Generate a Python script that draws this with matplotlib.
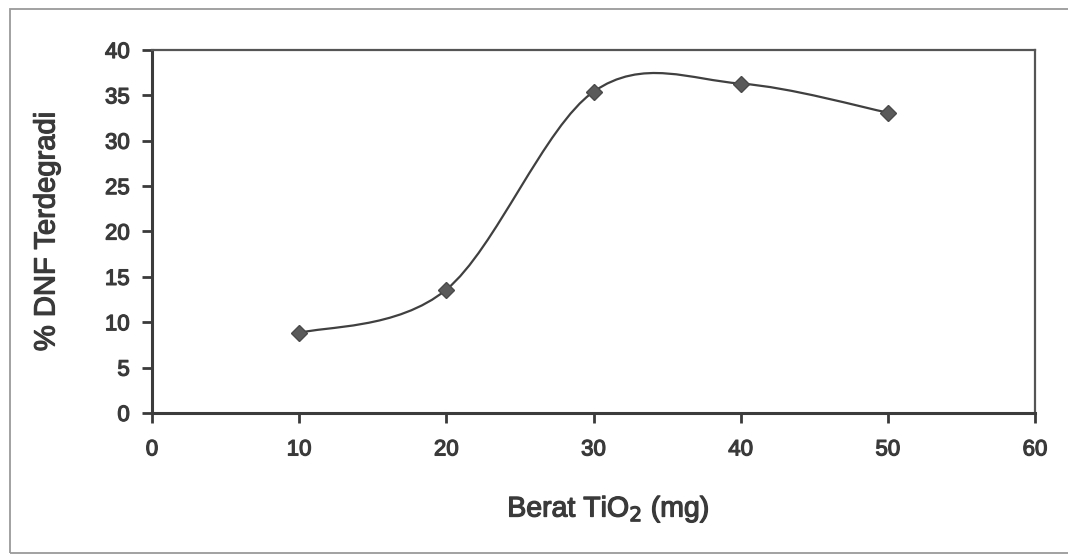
import matplotlib
matplotlib.use("Agg")
import matplotlib.pyplot as plt
from matplotlib.path import Path
from matplotlib.patches import PathPatch, Rectangle
import matplotlib.patheffects as pe
import numpy as np

# Data
berat_tio2 = [10, 20, 30, 40, 50]
dnf_terdegradasi = [8.8, 13.6, 35.4, 36.3, 33.1]
x_ticks = [0, 10, 20, 30, 40, 50, 60]
y_ticks = [0, 5, 10, 15, 20, 25, 30, 35, 40]

plt.rcParams['font.family'] = ['Liberation Sans', 'DejaVu Sans']
ink = '#3a3a3a'
thick = [pe.withStroke(linewidth=0.9, foreground=ink)]

fig = plt.figure(figsize=(10.68, 5.56), dpi=100)
fig.patch.set_facecolor('white')
fig.patches.append(Rectangle((10 / 1068, 3 / 556), 1.2, 544 / 556,
                             transform=fig.transFigure, fill=False,
                             edgecolor='#9a9a9a', linewidth=1.3))

ax = fig.add_axes([152 / 1068, 1 - 413 / 556, 883 / 1068, 363 / 556])
ax.set_xlim(0, 60)
ax.set_ylim(0, 40)

# Excel-style smoothed line through the points (cubic Bezier segments)
xs = np.array(berat_tio2, dtype=float)
ys = np.array(dnf_terdegradasi, dtype=float)
n = len(xs)
verts = [(xs[0], ys[0])]
codes = [Path.MOVETO]
for i in range(n - 1):
    p0 = np.array([xs[max(i - 1, 0)], ys[max(i - 1, 0)]])
    p1 = np.array([xs[i], ys[i]])
    p2 = np.array([xs[i + 1], ys[i + 1]])
    p3 = np.array([xs[min(i + 2, n - 1)], ys[min(i + 2, n - 1)]])
    c1 = p1 + (p2 - p0) / 6.0
    c2 = p2 - (p3 - p1) / 6.0
    verts += [tuple(c1), tuple(c2), tuple(p2)]
    codes += [Path.CURVE4] * 3
ax.add_patch(PathPatch(Path(verts, codes), facecolor='none',
                       edgecolor='#404040', linewidth=1.6, zorder=3))
ax.plot(berat_tio2, dnf_terdegradasi, linestyle='none', marker='D',
        markersize=8, color='#5a5a5a', markeredgecolor='#4a4a4a', zorder=4)

ax.set_xticks(x_ticks)
ax.set_yticks(y_ticks)
ax.tick_params(axis='both', direction='out', length=7, width=2.0,
               colors=ink, labelsize=16, pad=9)
ax.tick_params(axis='x', pad=12)
for lab in ax.get_xticklabels() + ax.get_yticklabels():
    lab.set_color(ink)
    lab.set_path_effects(thick)

for side in ['left', 'bottom']:
    ax.spines[side].set_linewidth(2.2)
    ax.spines[side].set_color('#3c3c3c')
for side in ['top', 'right']:
    ax.spines[side].set_linewidth(1.6)
    ax.spines[side].set_color('#555555')

xl = ax.set_xlabel('Berat TiO$_2$ (mg)', fontsize=20.5, color=ink, labelpad=22)
yl = ax.set_ylabel('% DNF Terdegradi', fontsize=21, color=ink, labelpad=32)
xl.set_path_effects(thick)
yl.set_path_effects(thick)
ax.xaxis.set_label_coords(0.517, -0.225)

fig.savefig('out.png', dpi=100)
